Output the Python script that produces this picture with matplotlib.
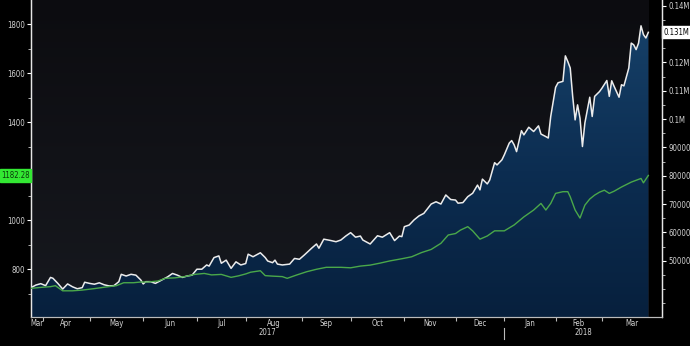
import numpy as np
import pandas as pd
import matplotlib
matplotlib.use("Agg")
import matplotlib.pyplot as plt
from matplotlib.colors import LinearSegmentedColormap
from matplotlib.ticker import FixedLocator, MultipleLocator, FuncFormatter, NullFormatter
from matplotlib.transforms import blended_transform_factory

plt.rcParams["font.family"] = ["Liberation Sans Narrow", "DejaVu Sans"]
plt.rcParams["font.stretch"] = "condensed"

# trading calendar (x axis = trading session number)
holidays = ["2017-04-14", "2017-05-29", "2017-07-04", "2017-09-04", "2017-11-23",
            "2017-12-25", "2018-01-01", "2018-01-15", "2018-02-19"]
days = pd.bdate_range("2017-03-27", "2018-03-28", freq="C", holidays=holidays)

# white series, right axis
white_day = [0, 2, 4, 6, 8, 9, 11, 13, 15, 17,
             19, 21, 22, 24, 26, 28, 30, 32, 34, 36,
             37, 39, 41, 43, 45, 46, 47, 49, 51, 54,
             56, 58, 60, 62, 64, 66, 68, 70, 72, 73,
             75, 77, 78, 80, 82, 84, 86, 88, 89, 91,
             94, 96, 97, 99, 100, 101, 103, 106, 108, 110,
             112, 115, 117, 118, 120, 123, 125, 127, 129, 131,
             133, 135, 136, 139, 142, 144, 147, 149, 151, 152,
             153, 155, 157, 159, 161, 164, 166, 168, 170, 172,
             174, 175, 177, 179, 181, 183, 184, 185, 187, 188,
             190, 191, 193, 194, 196, 197, 198, 199, 201, 202,
             204, 206, 208, 209, 211, 212, 213, 215, 216, 218,
             219, 220, 221, 222, 223, 224, 225, 226, 227, 229,
             230, 231, 233, 234, 236, 237, 238, 239, 241, 242,
             243, 245, 246, 247, 248, 249, 250, 251, 252, 253]
white_val = [40500, 41400, 41900, 41200, 44100, 43800, 42000, 40000, 41800, 40800,
             40100, 40500, 42400, 42000, 41700, 42200, 41500, 41100, 41200, 42600,
             45200, 44600, 45200, 44900, 43200, 41800, 42600, 42600, 42000, 43400,
             44300, 45500, 44900, 44100, 44600, 44900, 47000, 47000, 48500, 48100,
             51100, 51700, 49100, 50200, 47300, 49600, 48500, 49000, 52300, 51400,
             52800, 51100, 49900, 49300, 50200, 48800, 48500, 48800, 50800, 50500,
             52000, 54400, 55900, 54400, 57600, 57100, 56700, 57300, 58700, 59900,
             58300, 58700, 57300, 55900, 58800, 58300, 59900, 57100, 58700, 58500,
             62000, 62600, 64400, 65800, 66700, 70000, 70800, 70000, 73200, 71600,
             71400, 70300, 70500, 72600, 73800, 76700, 75000, 78800, 77100, 78500,
             84600, 83800, 85600, 87400, 91500, 92400, 90900, 88500, 95900, 94400,
             97100, 95600, 97600, 94700, 93800, 93300, 100900, 111200, 112800, 113300,
             122300, 120300, 118000, 108000, 99700, 105000, 100300, 90300, 98600, 107700,
             100900, 108000, 109700, 110900, 113600, 108000, 113500, 111500, 107700, 112100,
             111700, 118000, 126800, 126200, 124500, 126800, 132900, 129800, 128600, 130600]

# green series, left axis
green_day = [0, 4, 8, 10, 13, 17, 21, 26, 31, 35,
             38, 42, 45, 48, 52, 55, 59, 63, 67, 71,
             74, 78, 82, 85, 88, 90, 94, 96, 99, 103,
             105, 109, 113, 117, 121, 127, 131, 135, 139, 143,
             147, 152, 156, 160, 164, 168, 171, 174, 176, 179,
             181, 184, 187, 190, 194, 198, 202, 206, 209, 211,
             213, 215, 218, 220, 221, 223, 225, 227, 229, 231,
             233, 235, 237, 239, 242, 246, 250, 251, 253]
green_val = [721, 725, 728, 732, 711, 711, 714, 720, 727, 732,
             744, 744, 747, 747, 751, 762, 764, 769, 778, 782,
             776, 778, 766, 772, 780, 787, 793, 773, 771, 769,
             762, 776, 789, 799, 807, 807, 805, 812, 816, 824,
             833, 842, 850, 867, 880, 905, 939, 945, 959, 973,
             956, 922, 935, 956, 956, 980, 1013, 1041, 1068, 1041,
             1068, 1109, 1116, 1116, 1095, 1041, 1008, 1061, 1086, 1102,
             1114, 1122, 1109, 1118, 1135, 1155, 1170, 1152, 1182.28]

left_ticks = [800, 1000, 1200, 1400, 1600, 1800]
right_ticks = [50000, 60000, 70000, 80000, 90000, 100000, 110000, 120000, 130000, 140000]

XMAX = 258.6
LY = (604, 1899)
RY = (30130, 142010)
TXT = "#d4d4d4"

fig = plt.figure(figsize=(6.9, 3.46), dpi=100, facecolor="black")

# pick a text size so that a 4-digit label is about 16px wide (narrow Bloomberg look)
fig.canvas.draw()
probe = fig.text(0, 0, "1800", fontsize=10)
pw = probe.get_window_extent(fig.canvas.get_renderer()).width
probe.remove()
FS = float(np.clip(10 * 16.5 / pw, 5.6, 7.0))

ax = fig.add_axes([0.0449, 0.0838, 0.9145, 0.9162])
ax2 = ax.twinx()
ax.set_zorder(2)
ax2.set_zorder(1)
ax.patch.set_visible(False)
ax2.patch.set_visible(True)
ax2.patch.set_facecolor("black")

# background gradient
bg = LinearSegmentedColormap.from_list("bg", ["#17191f", "#0c0c10"])
ax2.imshow(np.linspace(0, 1, 256).reshape(-1, 1), extent=[0, white_day[-1], RY[0], RY[1]],
           aspect="auto", cmap=bg, origin="lower", zorder=0)

# area under white line with vertical gradient
poly = ax2.fill_between(white_day, white_val, RY[0], facecolor="none", edgecolor="none")
fillc = LinearSegmentedColormap.from_list("fill", ["#07203d", "#0c2d51", "#164068"])
im = ax2.imshow(np.linspace(0, 1, 256).reshape(-1, 1),
                extent=[0, white_day[-1], RY[0], max(white_val)],
                aspect="auto", cmap=fillc, origin="lower", zorder=1)
im.set_clip_path(poly.get_paths()[0], transform=ax2.transData)
ax2.plot(white_day, white_val, color="#ececec", lw=1.1, zorder=3)

ax.plot(green_day, green_val, color="#4aa84a", lw=1.0, zorder=3)

ax.set_xlim(0, XMAX)
ax2.set_xlim(0, XMAX)
ax.set_ylim(*LY)
ax2.set_ylim(*RY)

# month ticks: marks at month starts, names centred in each month
starts = [i for i in range(1, len(days)) if days[i].month != days[i - 1].month]
bounds = [0] + starts + [XMAX]
mids = [(bounds[k] + bounds[k + 1]) / 2 for k in range(len(bounds) - 1)]
names = [days[b].strftime("%b") for b in bounds[:-1]]
ax.xaxis.set_major_locator(FixedLocator(starts))
ax.xaxis.set_major_formatter(NullFormatter())
ax.xaxis.set_minor_locator(FixedLocator(mids))
ax.set_xticklabels(names, minor=True)
ax.tick_params(axis="x", which="major", length=3, width=0.8, color="#bbbbbb", direction="out")
ax.tick_params(axis="x", which="minor", length=0, pad=1.5, labelsize=FS, labelcolor=TXT)

# year labels and separator
jan = [s for s in starts if days[s].month == 1][0]
tr = blended_transform_factory(ax.transData, ax.transAxes)
ax.text(jan / 2, -0.049, "2017", transform=tr, ha="center", va="center", fontsize=FS, color=TXT)
ax.text((jan + XMAX) / 2, -0.049, "2018", transform=tr, ha="center", va="center", fontsize=FS, color=TXT)
ax.plot([jan, jan], [-0.035, -0.07], transform=tr, color="#bbbbbb", lw=0.8, clip_on=False)

# left axis (the 1200 label sits under the last-value tag)
ax.yaxis.set_major_locator(FixedLocator(left_ticks))
ax.yaxis.set_major_formatter(FuncFormatter(lambda v, p: "" if v == 1200 else "{:d}".format(int(v))))
ax.yaxis.set_minor_locator(MultipleLocator(100))
ax.tick_params(axis="y", which="major", length=3, width=0.8, color="white", labelsize=FS,
               labelcolor=TXT, pad=1.5)
ax.tick_params(axis="y", which="minor", length=2, width=0.6, color="#cccccc")

# right axis (0.13M sits under the last-value tag)
def right_fmt(v, pos):
    if v == 130000:
        return ""
    if v >= 100000:
        return "{:g}M".format(v / 1e6)
    return "{:d}".format(int(v))

ax2.yaxis.set_major_locator(FixedLocator(right_ticks))
ax2.yaxis.set_major_formatter(FuncFormatter(right_fmt))
ax2.yaxis.set_minor_locator(MultipleLocator(5000))
ax2.tick_params(axis="y", which="major", length=3, width=0.8, color="white", labelsize=FS,
                labelcolor=TXT, pad=1.5)
ax2.tick_params(axis="y", which="minor", length=2, width=0.6, color="#cccccc")

for a in (ax, ax2):
    a.spines["top"].set_visible(False)
    a.spines["left"].set_color("#e6e6e6")
    a.spines["right"].set_color("#e6e6e6")
    a.spines["bottom"].set_color("#bbbbbb")
    a.spines["left"].set_linewidth(0.9)
    a.spines["right"].set_linewidth(0.9)

# last value tags
trl = blended_transform_factory(ax.transAxes, ax.transData)
ax.text(-0.002, green_val[-1], "{:.2f}".format(green_val[-1]), transform=trl, ha="right",
        va="center", fontsize=FS, color="#0a3a0a", zorder=10,
        bbox=dict(boxstyle="square,pad=0.2", facecolor="#33e833", edgecolor="#33e833"))
trr = blended_transform_factory(ax2.transAxes, ax2.transData)
ax2.text(1.003, white_val[-1], "{:.3f}M".format(white_val[-1] / 1e6), transform=trr, ha="left",
         va="center", fontsize=FS, color="black", zorder=10,
         bbox=dict(boxstyle="square,pad=0.2", facecolor="white", edgecolor="white"))

fig.savefig("out.png", dpi=100, facecolor="black")
